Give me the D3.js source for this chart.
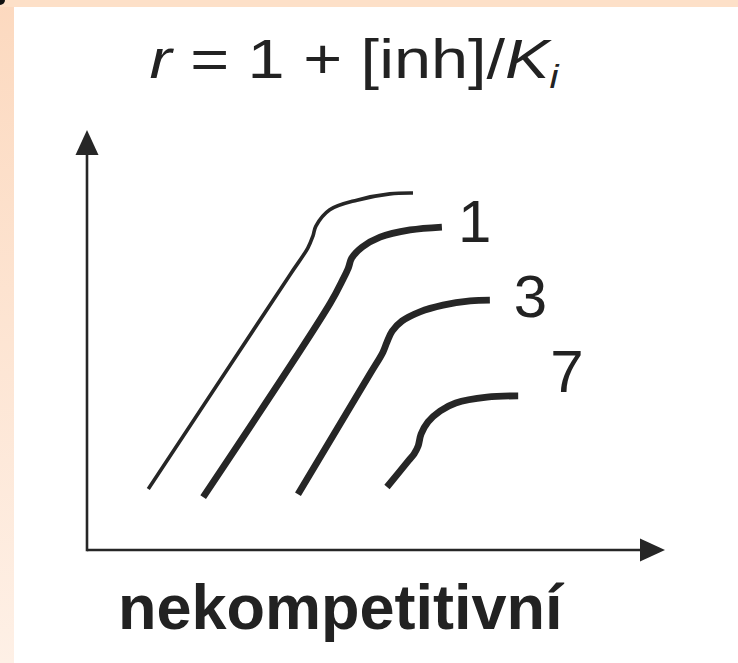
<!DOCTYPE html>
<html>
<head>
<meta charset="utf-8">
<script src="https://cdn.jsdelivr.net/npm/d3@7"></script>
<style>
  html, body { margin: 0; padding: 0; background: #ffffff; }
  svg { display: block; }
  text { font-family: "Liberation Sans", Arial, Helvetica, sans-serif; fill: #222; }
</style>
</head>
<body>
<svg id="chart" width="738" height="663"></svg>
<script>
// Rate vs. substrate curves for increasing non-competitive inhibition (schematic units 0–100)
const curveFree = [[10.6,14.5],[35.1,65.5],[38.2,71.9],[39.1,74.8],[39.6,77.1],[42.0,81.0],[46.7,83.3],[52.4,84.8],[56.4,85.0]];
const curveR1   = [[20.1,12.6],[42.1,58.8],[44.3,64.5],[45.2,67.1],[45.8,69.5],[47.6,72.1],[50.7,74.5],[55.9,76.2],[61.4,76.9]];
const curveR3   = [[36.5,13.3],[49.0,42.0],[51.2,47.1],[51.9,49.5],[52.8,52.1],[54.5,54.5],[57.6,56.7],[61.6,58.3],[66.3,59.3],[69.7,59.5]];
const curveR7   = [[51.9,15.0],[55.7,21.4],[56.6,22.9],[57.3,24.8],[57.8,27.6],[59.0,30.5],[61.1,33.1],[63.8,35.0],[69.2,36.4],[74.6,36.7]];
const curveLabels = ["", "1", "3", "7"];
const titleText = "nekompetitivní";

const svg = d3.select("#chart");
const W = 738, H = 663;

// paper background with the tinted frame along the top and left edges
const defs = svg.append("defs");
const grad = defs.append("linearGradient").attr("id", "edgeGrad")
  .attr("x1", 0).attr("y1", 0).attr("x2", 0).attr("y2", 1);
grad.append("stop").attr("offset", "0%").attr("stop-color", "#fcd9bf");
grad.append("stop").attr("offset", "100%").attr("stop-color", "#fef0e6");
svg.append("rect").attr("width", W).attr("height", H).attr("fill", "#ffffff");
svg.append("rect").attr("x", 0).attr("y", 0).attr("width", 14).attr("height", H).attr("fill", "url(#edgeGrad)");
svg.append("rect").attr("x", 0).attr("y", 0).attr("width", W).attr("height", 7).attr("fill", "#fde0c8");
svg.append("circle").attr("cx", 0).attr("cy", 0).attr("r", 5).attr("fill", "#111");

const x = d3.scaleLinear().domain([0, 100]).range([87, 665]);
const y = d3.scaleLinear().domain([0, 100]).range([550, 130]);

const ink = "#262626";

// axes with arrowheads
const x0 = x(0), y0 = y(0), xEnd = x(100), yEnd = y(100);
const head = 25, half = 11.5;
svg.append("line").attr("x1", x0).attr("y1", y0).attr("x2", xEnd - head + 2).attr("y2", y0)
  .attr("stroke", ink).attr("stroke-width", 2.6);
svg.append("line").attr("x1", x0).attr("y1", y0 + 1.3).attr("x2", x0).attr("y2", yEnd + head - 2)
  .attr("stroke", ink).attr("stroke-width", 2.6);
svg.append("path")
  .attr("d", `M${xEnd},${y0} L${xEnd - head},${y0 - half} L${xEnd - head},${y0 + half} Z`)
  .attr("fill", ink);
svg.append("path")
  .attr("d", `M${x0},${yEnd} L${x0 - half},${yEnd + head} L${x0 + half},${yEnd + head} Z`)
  .attr("fill", ink);

// curves
const line = d3.line()
  .x(d => x(d[0])).y(d => y(d[1]))
  .curve(d3.curveCatmullRom.alpha(0.5));

const series = [curveFree, curveR1, curveR3, curveR7];
const widths = [3.6, 6.8, 6.8, 6.8];
svg.append("g").selectAll("path")
  .data(series)
  .join("path")
  .attr("d", line)
  .attr("fill", "none")
  .attr("stroke", ink)
  .attr("stroke-width", (d, i) => widths[i])
  .attr("stroke-linecap", "butt")
  .attr("stroke-linejoin", "round");

// curve labels (r values) placed just right of each curve end
const labelOffsets = [[0, 0], [16, 15], [24, 17], [32, -4]];
svg.append("g").selectAll("text")
  .data(series.map((s, i) => ({ end: s[s.length - 1], label: curveLabels[i], off: labelOffsets[i] }))
    .filter(d => d.label))
  .join("text")
  .attr("x", d => x(d.end[0]) + d.off[0])
  .attr("y", d => y(d.end[1]) + d.off[1])
  .attr("font-size", 60)
  .text(d => d.label);

// formula heading (set in a widened face)
const t = svg.append("text")
  .attr("transform", "translate(354,78) scale(1.19,1)")
  .attr("text-anchor", "middle").attr("font-size", 56);
t.append("tspan").attr("font-style", "italic").text("r");
t.append("tspan").text(" = 1 + [inh]/");
t.append("tspan").attr("font-style", "italic").text("K");
t.append("tspan").attr("font-style", "italic").attr("font-size", 34).attr("dy", 10).text("i");

// axis caption
svg.append("text").attr("x", 118).attr("y", 629)
  .attr("font-size", 63).attr("font-weight", "bold")
  .text(titleText);
</script>
</body>
</html>
